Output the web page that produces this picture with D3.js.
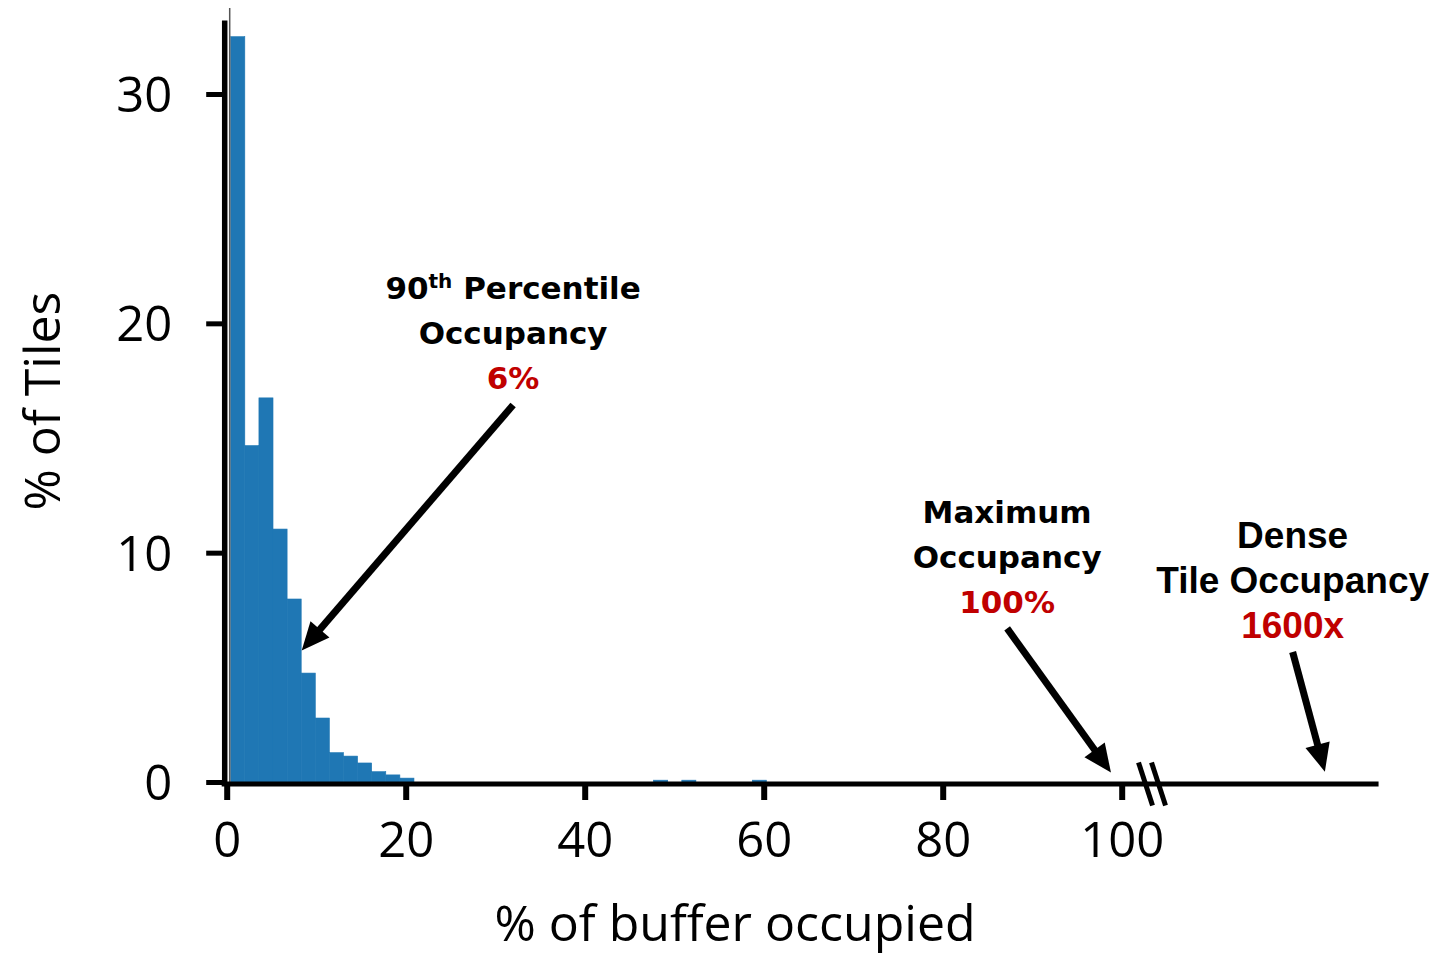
<!DOCTYPE html>
<html>
<head>
<meta charset="utf-8">
<script src="https://cdn.jsdelivr.net/npm/d3@7"></script>
<style>
  html, body { margin: 0; padding: 0; background: #fff; }
  svg { display: block; }
</style>
</head>
<body>
<svg id="chart" width="1437" height="957"></svg>
<script>
// ---------- data ----------
const binStart = 0.45;          // left edge of the first bin (% of buffer)
const binWidth = 1.575;         // bin width (% of buffer)
const binValues = [32.5, 14.67, 16.75, 11.03, 7.98, 4.75, 2.79, 1.28, 1.13, 0.83, 0.45, 0.31, 0.17,
  0, 0, 0, 0, 0, 0, 0, 0, 0, 0, 0, 0, 0, 0, 0, 0, 0,
  0.08, 0, 0.08, 0, 0, 0, 0, 0.08];
const xTicks = [0, 20, 40, 60, 80, 100];
const yTicks = [0, 10, 20, 30];
const xTitle = "% of buffer occupied";
const yTitle = "% of Tiles";
const annoLines = [
  ["90|th| Percentile", "Occupancy"],
  ["Maximum", "Occupancy"],
  ["Dense", "Tile Occupancy"]
];
const annoValues = ["6%", "100%", "1600x"];
const annoTextAt = [[32, 21.06], [87.2, 11.3], [119.1, 10.2]];   // data coords of first-line baseline centre
const arrowFrom = [[32.0, 16.44], [87.2, 6.7], [119.1, 5.67]];
const arrowTo = [[8.38, 5.73], [98.8, 0.41], [122.7, 0.45]];
const axisExtentX = 128.7;   // x axis continues past the break
const axisExtentY = 33.2;
const breakAt = 103.5;

// ---------- scales ----------
const x = d3.scaleLinear().domain([0, 100]).range([226.7, 1121.7]);
const y = d3.scaleLinear().domain([0, 30]).range([782, 94]);

const svg = d3.select("#chart");
const blue = "#1f77b4";
const red = "#c00000";
const axisFont = "'Open Sans', 'Noto Sans', sans-serif";
const boldFont = "'DejaVu Sans', sans-serif";

// bars
svg.append("g").selectAll("rect")
  .data(binValues.map((v, i) => ({ x0: binStart + i * binWidth, v })).filter(d => d.v > 0))
  .join("rect")
  .attr("x", d => x(d.x0))
  .attr("width", d => x(d.x0 + binWidth) - x(d.x0))
  .attr("y", d => y(d.v))
  .attr("height", d => y(0) - y(d.v))
  .attr("fill", blue)
  .attr("stroke", blue).attr("stroke-width", 0.6);

// thin grey edge line beside y axis
svg.append("line")
  .attr("x1", x(0) + 3).attr("x2", x(0) + 3)
  .attr("y1", 8).attr("y2", y(0))
  .attr("stroke", "#555").attr("stroke-width", 1.5);

// y axis
const yAxis = d3.axisLeft(y).tickValues(yTicks).tickSize(16).tickPadding(34).tickFormat(d3.format("d"));
const gy = svg.append("g").attr("transform", `translate(${x(0) - 4.5},0)`).call(yAxis);
gy.select(".domain").remove();
gy.selectAll(".tick line").attr("stroke", "#000").attr("stroke-width", 5);
gy.selectAll(".tick text").attr("font-family", axisFont).attr("font-size", 49).attr("fill", "#000").attr("dy", "0.36em");
svg.append("line")
  .attr("x1", x(0) - 2).attr("x2", x(0) - 2)
  .attr("y1", y(axisExtentY)).attr("y2", y(0) + 4)
  .attr("stroke", "#000").attr("stroke-width", 5.5);

// x axis
const xAxis = d3.axisBottom(x).tickValues(xTicks).tickSize(16).tickPadding(22).tickFormat(d3.format("d"));
const gx = svg.append("g").attr("transform", `translate(0,${y(0) + 2})`).call(xAxis);
gx.select(".domain").remove();
gx.selectAll(".tick line").attr("stroke", "#000").attr("stroke-width", 6);
gx.selectAll(".tick text").attr("font-family", axisFont).attr("font-size", 49).attr("fill", "#000").attr("dy", "0.71em");
svg.append("line")
  .attr("x1", x(0) - 5).attr("x2", x(axisExtentX))
  .attr("y1", y(0) + 2).attr("y2", y(0) + 2)
  .attr("stroke", "#000").attr("stroke-width", 5);

// axis break marks
[-6.5, 6.5].forEach(off => {
  const cx = x(breakAt) + off - 1, cy = y(0) + 2;
  svg.append("line")
    .attr("x1", cx - 7).attr("y1", cy - 21.5)
    .attr("x2", cx + 7).attr("y2", cy + 21.5)
    .attr("stroke", "#000").attr("stroke-width", 5);
});

// axis titles
svg.append("text")
  .attr("x", 735).attr("y", 941)
  .attr("text-anchor", "middle")
  .attr("font-family", axisFont).attr("font-size", 50)
  .text(xTitle);
svg.append("text")
  .attr("transform", `translate(60,401) rotate(-90)`)
  .attr("text-anchor", "middle")
  .attr("font-family", axisFont).attr("font-size", 50)
  .text(yTitle);

// annotations
annoLines.forEach((lines, i) => {
  const isArial = i === 2;
  const fam = isArial ? "'Liberation Sans', Arial, sans-serif" : boldFont;
  const fs = isArial ? 37 : 31;
  const lh = 45;
  const cx = x(annoTextAt[i][0]);
  const baseY = y(annoTextAt[i][1]);
  const g = svg.append("g")
    .attr("font-family", fam).attr("font-size", fs).attr("font-weight", "bold")
    .attr("text-anchor", "middle");
  lines.forEach((ln, j) => {
    const t = g.append("text").attr("x", cx).attr("y", baseY + j * lh).attr("fill", "#000");
    const parts = ln.split("|");
    if (parts.length === 3) {
      t.append("tspan").text(parts[0]);
      t.append("tspan").attr("font-size", 20).attr("dy", -11).text(parts[1]);
      t.append("tspan").attr("dy", 11).text(parts[2]);
    } else {
      t.text(ln);
    }
  });
  g.append("text").attr("x", cx).attr("y", baseY + lines.length * lh)
    .attr("fill", red).text(annoValues[i]);
});

// arrows
function arrow(from, to) {
  const x1 = x(from[0]), y1 = y(from[1]), x2 = x(to[0]), y2 = y(to[1]);
  const ang = Math.atan2(y2 - y1, x2 - x1);
  const headLen = 28, headHalf = 12.5;
  const bx = x2 - headLen * Math.cos(ang), by = y2 - headLen * Math.sin(ang);
  svg.append("line")
    .attr("x1", x1).attr("y1", y1).attr("x2", bx + 3 * Math.cos(ang)).attr("y2", by + 3 * Math.sin(ang))
    .attr("stroke", "#000").attr("stroke-width", 7);
  const px = -Math.sin(ang), py = Math.cos(ang);
  svg.append("path")
    .attr("d", `M${x2},${y2}L${bx + headHalf * px},${by + headHalf * py}L${bx - headHalf * px},${by - headHalf * py}Z`)
    .attr("fill", "#000");
}
arrowFrom.forEach((f, i) => arrow(f, arrowTo[i]));
</script>
</body>
</html>
